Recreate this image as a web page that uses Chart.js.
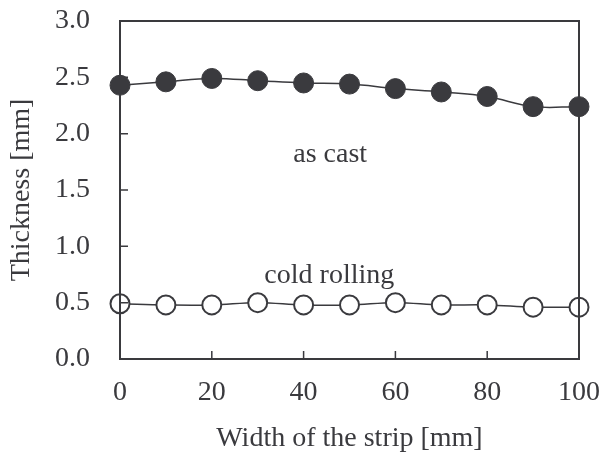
<!DOCTYPE html>
<html>
<head>
<meta charset="utf-8">
<script src="https://cdn.jsdelivr.net/npm/chart.js@4/dist/chart.umd.min.js"></script>
<style>
html,body{margin:0;padding:0;background:#fff;}
#wrap{width:602px;height:459px;}
</style>
</head>
<body>
<div id="wrap"><canvas id="c" width="602" height="459"></canvas></div>
<script>
const widths = [0, 10, 20, 30, 40, 50, 60, 70, 80, 90, 100];
const asCast = [2.43, 2.46, 2.49, 2.47, 2.45, 2.44, 2.40, 2.37, 2.33, 2.24, 2.24];
const coldRolling = [0.49, 0.48, 0.48, 0.50, 0.48, 0.48, 0.50, 0.48, 0.48, 0.46, 0.46];
const xTicks = [0, 20, 40, 60, 80, 100];
const yTicks = [0.0, 0.5, 1.0, 1.5, 2.0, 2.5, 3.0];
const labels = [
  {text: 'as cast', x: 45.8, y: 1.75},
  {text: 'cold rolling', x: 45.6, y: 0.675}
];

const FONT = "'Liberation Serif', 'DejaVu Serif', serif";
const INK = '#3a3a3e';
const FS = 28;

const framePlugin = {
  id: 'frame',
  afterDatasetsDraw(chart) {
    const {ctx, chartArea: a, scales} = chart;
    ctx.save();
    ctx.strokeStyle = INK;
    ctx.lineWidth = 2;
    ctx.strokeRect(a.left, a.top, a.right - a.left, a.bottom - a.top);
    ctx.lineWidth = 1.5;
    ctx.beginPath();
    xTicks.slice(1, -1).forEach(v => {
      const px = scales.x.getPixelForValue(v);
      ctx.moveTo(px, a.bottom); ctx.lineTo(px, a.bottom - 8);
    });
    yTicks.slice(1, -1).forEach(v => {
      const py = scales.y.getPixelForValue(v);
      ctx.moveTo(a.left, py); ctx.lineTo(a.left + 8, py);
    });
    ctx.stroke();
    ctx.fillStyle = INK;
    ctx.font = FS + "px " + FONT;
    ctx.textAlign = 'center';
    ctx.textBaseline = 'alphabetic';
    labels.forEach(l => {
      ctx.fillText(l.text, scales.x.getPixelForValue(l.x), scales.y.getPixelForValue(l.y));
    });
    ctx.restore();
  }
};

new Chart(document.getElementById('c'), {
  type: 'line',
  data: {
    datasets: [
      {
        label: 'as cast',
        data: widths.map((w, i) => ({x: w, y: asCast[i]})),
        borderColor: INK,
        borderWidth: 1.5,
        backgroundColor: INK,
        pointBackgroundColor: INK,
        pointBorderColor: INK,
        pointRadius: 10,
        pointBorderWidth: 1,
        tension: 0.4,
        clip: false
      },
      {
        label: 'cold rolling',
        data: widths.map((w, i) => ({x: w, y: coldRolling[i]})),
        borderColor: INK,
        borderWidth: 1.5,
        backgroundColor: '#fff',
        pointBackgroundColor: '#fff',
        pointBorderColor: INK,
        pointRadius: 9.5,
        pointBorderWidth: 2,
        tension: 0.4,
        clip: false
      }
    ]
  },
  options: {
    responsive: false,
    animation: false,
    devicePixelRatio: 1,
    layout: {padding: {left: 0, right: 23, top: 21, bottom: 0}},
    plugins: {legend: {display: false}, tooltip: {enabled: false}},
    scales: {
      x: {
        type: 'linear',
        min: 0, max: 100,
        afterFit: s => { s.height = 100; s.paddingLeft = 0; s.paddingRight = 0; },
        afterBuildTicks: s => { s.ticks = xTicks.map(v => ({value: v})); },
        grid: {display: false, drawTicks: false},
        border: {display: false},
        ticks: {color: INK, font: {family: FONT, size: FS}, padding: 17, maxRotation: 0},
        title: {display: true, text: 'Width of the strip [mm]', color: INK, font: {family: FONT, size: FS}, padding: {top: 0, bottom: 4}}
      },
      y: {
        type: 'linear',
        min: 0, max: 3,
        afterFit: s => { s.width = 120; s.paddingTop = 0; s.paddingBottom = 0; },
        afterBuildTicks: s => { s.ticks = yTicks.map(v => ({value: v})); },
        grid: {display: false, drawTicks: false},
        border: {display: false},
        ticks: {color: INK, font: {family: FONT, size: FS}, padding: 30, callback: v => Number(v).toFixed(1)},
        title: {display: true, text: 'Thickness [mm]', color: INK, font: {family: FONT, size: FS}, padding: {top: 5, bottom: 0}}
      }
    }
  },
  plugins: [framePlugin]
});
</script>
</body>
</html>
